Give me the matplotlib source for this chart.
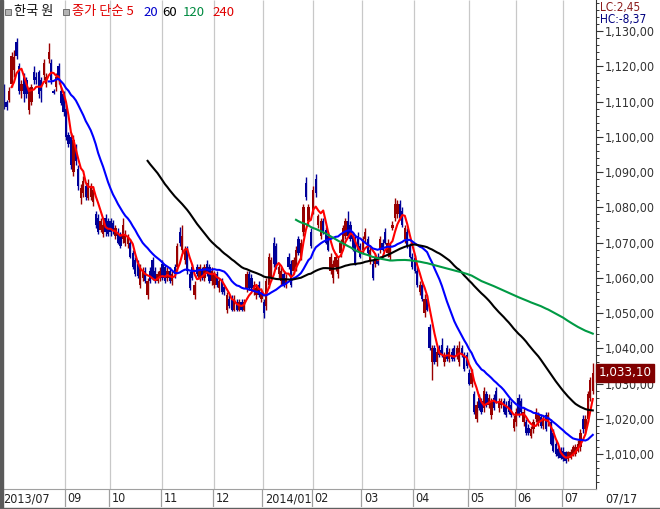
import matplotlib
matplotlib.use("Agg")
import matplotlib.pyplot as plt
from matplotlib.patches import Rectangle
from matplotlib.lines import Line2D
import numpy as np
import pandas as pd

plt.rcParams['font.family'] = ['Noto Sans CJK KR', 'DejaVu Sans']

# USD/KRW daily candles, 2013/07 .. 2014/07/17 (one row per month)
opens = [
    1121, 1114, 1110, 1110.5, 1115,
    1119, 1127, 1120, 1113, 1117, 1116, 1107.5, 1110, 1118.5, 1117, 1118.5, 1116, 1117.5, 1115, 1122, 1121, 1113, 1114, 1120, 1113, 1112,
    1108, 1100.5, 1100, 1090, 1097, 1091, 1082.5, 1084, 1086, 1082.5, 1083, 1081.5, 1078, 1077, 1073.5, 1072.5, 1077, 1076,
    1076, 1075.5, 1072, 1073, 1072, 1071, 1070, 1069.5, 1070, 1067, 1065, 1064, 1058, 1060, 1062, 1055, 1062, 1065, 1062, 1059, 1060,
    1064, 1063, 1060, 1062, 1059, 1063, 1063, 1073, 1068, 1065, 1068, 1061, 1063, 1055, 1063, 1060, 1062, 1060, 1064, 1063, 1059,
    1058, 1061, 1057, 1059, 1057.5, 1051, 1054, 1054, 1051, 1053, 1051, 1053, 1051, 1057, 1061, 1060, 1056, 1055, 1058, 1054,
    1053, 1052, 1058, 1060, 1070, 1069, 1061, 1059, 1061, 1058, 1066, 1064, 1062, 1063, 1071, 1066, 1073, 1087, 1076, 1073,
    1079, 1088, 1075, 1072, 1076, 1073.5, 1072, 1062, 1060, 1063, 1061, 1067, 1070, 1072, 1076, 1075, 1072, 1071, 1072, 1069,
    1068, 1071, 1071, 1065, 1064, 1064, 1066, 1068, 1070, 1073, 1067, 1066, 1074, 1077, 1078, 1081, 1079, 1071, 1073, 1069, 1066,
    1065.5, 1062, 1056, 1058, 1050, 1054, 1046, 1036, 1040, 1036, 1039.5, 1041, 1036, 1040, 1037, 1039, 1040, 1038, 1036, 1040, 1038, 1038,
    1033, 1030, 1027, 1020, 1026, 1025, 1023, 1027, 1024, 1021, 1026, 1028, 1023, 1024, 1025, 1024, 1025, 1024, 1017.5,
    1019, 1026, 1025, 1019, 1019, 1017.5, 1015, 1017, 1020, 1019, 1020.5, 1018, 1021, 1019, 1019, 1016, 1013, 1011.5, 1011,
    1011, 1010.5, 1008.5, 1009, 1010, 1010, 1011, 1012, 1020, 1017, 1020, 1026, 1028,
]
highs = [
    1122, 1115, 1110.5, 1114, 1124,
    1124.5, 1128, 1121, 1116, 1118, 1117, 1114, 1115, 1120, 1118.5, 1119, 1117, 1122, 1118, 1126.5, 1122, 1113.5, 1118, 1121, 1114, 1113,
    1109, 1101.5, 1101, 1100.5, 1098, 1092, 1086.5, 1089, 1087, 1088, 1087, 1086, 1079, 1078, 1077, 1076, 1078, 1077,
    1077, 1076.5, 1075, 1074, 1073, 1077, 1073.5, 1072.5, 1071, 1068, 1066, 1065, 1064, 1063, 1063, 1060, 1063, 1066, 1063, 1062, 1063,
    1065, 1064, 1063, 1063, 1062, 1064, 1070, 1074.5, 1075, 1069, 1069, 1062, 1064, 1059, 1064, 1064, 1063, 1064, 1065, 1064, 1063,
    1062, 1062, 1060, 1060, 1058, 1056, 1055, 1055, 1055, 1054, 1054, 1054, 1054, 1062, 1062, 1061, 1059, 1058, 1059, 1057,
    1054, 1060, 1067, 1066, 1071.5, 1070, 1064, 1063, 1062, 1061, 1067, 1065, 1066, 1069, 1072, 1071, 1081, 1088.5, 1081, 1074,
    1086, 1089.5, 1078, 1077, 1077, 1074.5, 1073, 1067, 1065, 1067, 1066, 1071, 1075, 1077, 1079, 1076, 1073, 1072, 1073, 1070,
    1072, 1074, 1072, 1069, 1065, 1067, 1067, 1072, 1071, 1074, 1071, 1070, 1076, 1082.5, 1082, 1082, 1080, 1075, 1074, 1070, 1067,
    1066.5, 1063, 1059, 1059, 1055.5, 1055, 1047, 1041, 1041, 1040, 1041, 1043, 1039, 1041, 1040, 1040, 1041, 1041, 1042, 1041, 1039, 1039,
    1034, 1034, 1028, 1025, 1027, 1026, 1029, 1028, 1027, 1026, 1027, 1029, 1026, 1026, 1026, 1025, 1026, 1025, 1021,
    1023, 1027, 1026, 1023, 1020, 1018.5, 1018, 1020, 1023, 1022, 1021.5, 1021, 1022, 1022, 1020, 1017, 1014, 1012, 1012,
    1012, 1011, 1011, 1011.5, 1012.5, 1013, 1014, 1017, 1021, 1021, 1028, 1032, 1035.8,
]
lows = [
    1115, 1108, 1107.5, 1110, 1114,
    1117, 1122, 1112, 1111, 1110, 1111, 1106.5, 1109, 1115, 1115, 1111, 1110, 1116, 1114, 1121, 1115, 1112, 1113, 1115, 1109, 1106,
    1099, 1097, 1091, 1089, 1092, 1085, 1081, 1083, 1082, 1082, 1082, 1080.5, 1074, 1072.5, 1073, 1071.5, 1072, 1072,
    1072, 1072.5, 1071, 1069.5, 1068.5, 1070, 1069, 1068.5, 1065.5, 1062.5, 1060.5, 1060, 1057, 1059, 1058.5, 1054, 1058.5, 1059.5, 1058.5, 1058.5, 1059,
    1059.5, 1058.5, 1059, 1058.5, 1058, 1060, 1062, 1069, 1067, 1064, 1061, 1056.5, 1059.5, 1054, 1060.5, 1059, 1059.5, 1059, 1060.5, 1058.5, 1058,
    1057, 1057.5, 1056, 1055.5, 1055, 1050, 1051.5, 1050.5, 1050.5, 1050.5, 1050.5, 1050.5, 1050.5, 1056, 1056.5, 1056.5, 1055, 1054, 1054.5, 1053,
    1048.5, 1051, 1057, 1059, 1063, 1062.5, 1060, 1058, 1057.5, 1057, 1062.5, 1057.5, 1061, 1062, 1066.5, 1065, 1072, 1082, 1075, 1068.5,
    1078, 1083, 1074, 1071, 1072.5, 1069.5, 1067.5, 1061, 1058.5, 1062, 1060, 1066, 1069, 1071, 1071.5, 1070.5, 1067.5, 1063.5, 1067.5, 1065.5,
    1067, 1070, 1066.5, 1064, 1059.5, 1063, 1063.5, 1067, 1067.5, 1069.5, 1066, 1065, 1073.5, 1076, 1077, 1076.5, 1074.5, 1070, 1068.5, 1065.5, 1062.5,
    1061.5, 1057.5, 1055, 1053.5, 1049, 1050.5, 1039.5, 1031, 1035.5, 1035, 1037.5, 1037.5, 1035, 1036.5, 1036, 1036.5, 1036.5, 1037, 1035, 1037.5, 1033.5, 1034.5,
    1029.5, 1029, 1021.5, 1019, 1022.5, 1021.5, 1022, 1023.5, 1023, 1020, 1022.5, 1024.5, 1022, 1023, 1021.5, 1020.5, 1021.5, 1020.5, 1016.5,
    1018, 1020.5, 1021.5, 1018, 1015.5, 1015.5, 1014.5, 1016, 1019, 1018, 1017.5, 1017, 1016.5, 1018, 1012.5, 1010.5, 1009.5, 1009, 1008.5,
    1008, 1007.5, 1008, 1008.5, 1009.5, 1009.5, 1010.5, 1011, 1016, 1016, 1019, 1025, 1027,
]
closes = [
    1115.5, 1110.5, 1108.5, 1113, 1123,
    1122.5, 1123, 1113, 1115, 1112, 1112, 1113, 1114, 1116, 1116, 1112, 1113, 1121, 1117, 1124, 1116, 1112.5, 1117, 1116, 1109.5, 1107,
    1100, 1098, 1092, 1099, 1093, 1086, 1085.5, 1087.5, 1083, 1087, 1086, 1085, 1075, 1073, 1076, 1075, 1073, 1072.5,
    1073, 1073.5, 1074, 1070, 1069, 1075, 1072.5, 1071.5, 1066, 1063, 1061, 1060.5, 1063, 1062, 1059, 1059, 1059, 1060, 1059.5, 1061, 1062,
    1060, 1059, 1062, 1059, 1061, 1061, 1069, 1070, 1072, 1068, 1062, 1057, 1060, 1058, 1061, 1063, 1060, 1063, 1061, 1059, 1062,
    1061, 1058, 1059, 1056, 1056, 1055, 1052, 1051, 1054, 1051, 1053, 1051, 1053, 1061, 1057, 1057, 1058, 1057, 1055, 1056,
    1050, 1059, 1066, 1065, 1064, 1063, 1063, 1062, 1058, 1060, 1063, 1058, 1065, 1068, 1067, 1070, 1080, 1083, 1080, 1069,
    1085, 1084, 1077.5, 1076, 1073, 1070, 1068, 1066, 1064, 1066, 1065, 1070, 1074, 1076, 1072, 1071, 1068, 1064, 1068, 1066,
    1071, 1073, 1067, 1068, 1060, 1066, 1064, 1071, 1068, 1070, 1070, 1069, 1075, 1081, 1081, 1077, 1075, 1074, 1069, 1066, 1063,
    1062, 1058, 1058, 1054, 1054, 1051, 1040, 1040, 1036, 1039, 1038, 1038, 1038, 1037, 1039, 1037, 1037, 1040, 1040, 1038, 1034, 1035,
    1030, 1033, 1022, 1024, 1023, 1022, 1028, 1024, 1026, 1025, 1023, 1025, 1025, 1025, 1022, 1021, 1022, 1021, 1020,
    1022, 1021, 1022, 1022, 1016, 1016, 1017, 1019, 1022, 1021, 1018, 1020, 1017, 1021, 1013, 1011, 1010, 1009.5, 1009,
    1008.5, 1008, 1010.5, 1010.5, 1012, 1012, 1013, 1016, 1017, 1020, 1027, 1031, 1033.1,
]

month_start = [0, 26, 44, 65, 86, 106, 126, 146, 167, 189, 208, 227]
month_labels = ['2013/07', '09', '10', '11', '12', '2014/01', '02', '03', '04', '05', '06', '07']
last_date = '07/17'

ma_windows = [5, 20, 60, 120, 240]
ma_colors = ['#ff0000', '#0000ff', '#000000', '#009a44', '#e00000']

y_ticks = list(range(1010, 1131, 10))

NUM_FONT = dict(family='DejaVu Sans', stretch='condensed')

o = np.array(opens)
h = np.array(highs)
l = np.array(lows)
c = np.array(closes)
x = np.arange(len(c))
up = c >= o
col = np.where(up, '#990000', '#000099')

W, H = 660, 509
fig = plt.figure(figsize=(W / 100, H / 100), dpi=100)
ax = fig.add_axes([3 / W, 20 / H, 593 / W, 489 / H])
ax.set_xlim(0.53, 240.3)
ax.set_ylim(1000.1, 1138.8)

# month grid
ax.vlines(np.array(month_start[1:]) - 0.2, 0, 1, transform=ax.get_xaxis_transform(),
          colors='#c8c8c8', lw=0.9, zorder=0)

# candles
ax.vlines(x, l, h, colors=col, lw=1.0, zorder=2)
ax.bar(x, np.maximum(np.abs(c - o), 0.4), bottom=np.minimum(o, c), width=0.92,
       color=col, linewidth=0, zorder=2)

# moving averages
s = pd.Series(c)
for w, mc in zip(ma_windows, ma_colors):
    ax.plot(x, s.rolling(w).mean(), color=mc, lw=1.5, zorder=3)

for sp in ['left', 'top']:
    ax.spines[sp].set_visible(False)
ax.spines['bottom'].set_color('#a0a0a0')
ax.spines['right'].set_color('#333333')
ax.set_xticks([])
ax.yaxis.tick_right()
ax.set_yticks(y_ticks)
ax.set_yticklabels([f"{v:,.2f}".replace('.', ',') for v in y_ticks])
ax.set_yticks(np.arange(1002, 1139, 2), minor=True)
ax.tick_params(axis='y', which='major', length=5, width=0.8, color='#333333', pad=1,
               labelsize=9, labelcolor='#333333')
ax.tick_params(axis='y', which='minor', length=2.5, width=0.7, color='#333333')
for t in ax.get_yticklabels():
    t.set_family(NUM_FONT['family'])
    t.set_stretch(NUM_FONT['stretch'])

# last price box
ax.annotate(f"{c[-1]:,.2f}".replace('.', ','), xy=(1, c[-1]), xycoords=('axes fraction', 'data'),
            xytext=(2, 0), textcoords='offset points', ha='left', va='center', color='white',
            fontsize=9.5, **NUM_FONT,
            bbox=dict(boxstyle='square,pad=0.2', fc='#800000', ec='#800000'))

# date band
ax2 = fig.add_axes([3 / W, 2 / H, 593 / W, 18 / H])
ax2.set_xlim(ax.get_xlim())
ax2.set_ylim(0, 1)
ax2.axis('off')
ax2.vlines(np.array(month_start[1:]) - 0.6, 0, 1, colors='#a0a0a0', lw=0.9)
for mi, lab in zip(month_start, month_labels):
    ax2.text(mi + 0.4, 0.45, lab, ha='left', va='center', fontsize=9, color='#222222', **NUM_FONT)
ax2.text(244, 0.45, last_date, ha='left', va='center', fontsize=9, color='#222222',
         clip_on=False, **NUM_FONT)

fig.add_artist(Line2D([0, 1], [1.5 / H, 1.5 / H], color='#606060', lw=1))
fig.add_artist(Rectangle((0, 0), 2.5 / W, 1, transform=fig.transFigure, color='#5a5a5a'))

# legend
def px(xp, yp):
    return xp / W, 1 - yp / H

for sx in [5, 63]:
    fig.add_artist(Rectangle(px(sx, 15), 6 / W, 6 / H, transform=fig.transFigure,
                             fc='#b4b4b4', ec='#707070', lw=0.7))
fig.text(*px(14, 12), '한국 원', fontsize=9.5, color='#111111', va='center')
fig.text(*px(72, 12), '종가 단순 5', fontsize=9.5, color='#e00000', va='center')
for xp, lab, mc in [(143, '20', '#0000cc'), (162, '60', '#000000'),
                    (183, '120', '#008a40'), (212, '240', '#e00000')]:
    fig.text(*px(xp, 12), lab, fontsize=9.5, color=mc, va='center')

fig.text(*px(600, 7), 'LC:2,45', fontsize=8.5, color='#8b1a1a', va='center', **NUM_FONT)
fig.text(*px(600, 19.5), 'HC:-8,37', fontsize=8.5, color='#00007f', va='center', **NUM_FONT)

fig.savefig('out.png', dpi=100)
